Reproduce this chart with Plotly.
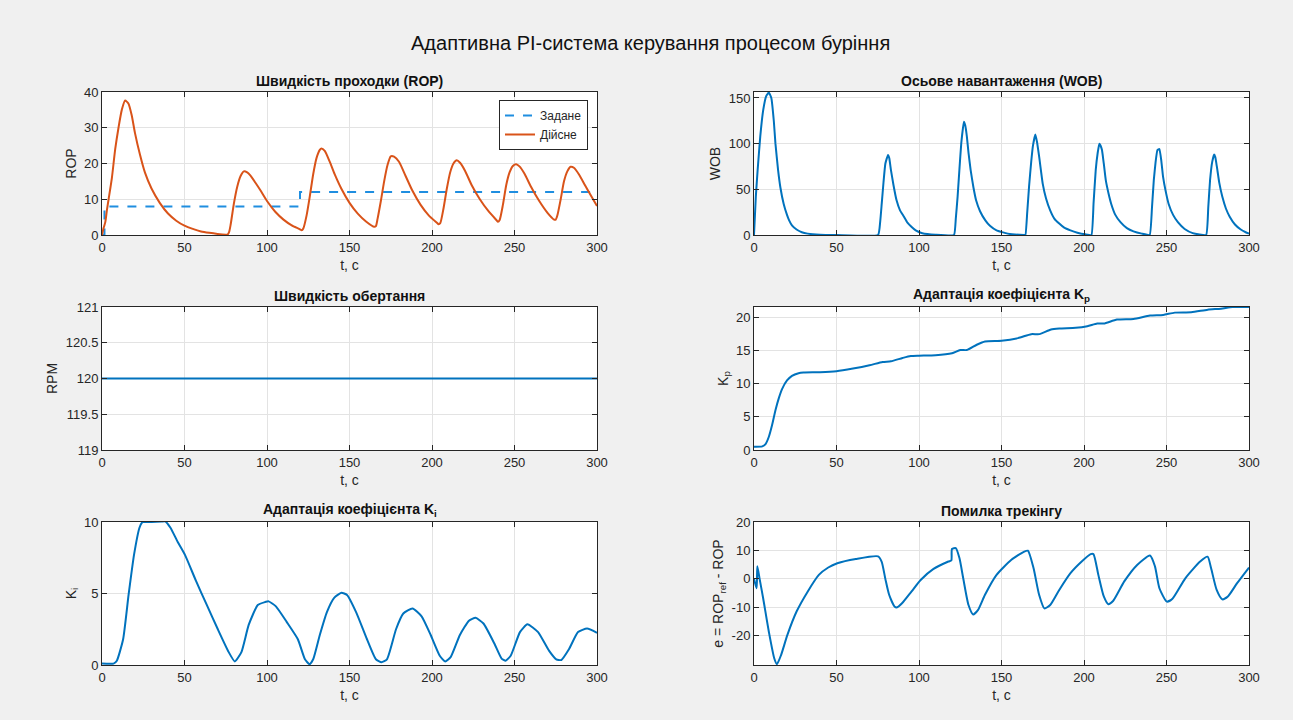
import plotly.graph_objects as go
from plotly.subplots import make_subplots

# ---------------- data ----------------
t_ref = [0, 1.5, 1.5, 120, 120, 300]
rop_ref = [0, 0, 8, 8, 12, 12]

t_rop = [0, 1, 2, 3, 4, 6, 8, 10, 12, 14, 16, 18, 20, 23, 26, 30, 35, 40, 45, 50, 55, 60, 65, 70, 75, 76,
         77, 78, 80, 82, 84, 86, 88, 90, 93, 96, 100, 105, 110, 115, 120, 121, 122, 124, 126, 128, 130,
         132, 133, 135, 138, 141, 145, 150, 155, 160, 165, 166, 167, 169, 171, 173, 175, 177, 180, 184,
         188, 193, 198, 203, 204, 205, 207, 209, 211, 213, 215, 217, 220, 224, 229, 234, 239, 240, 241,
         243, 245, 247, 249, 251, 253, 256, 260, 265, 270, 274, 275, 276, 278, 280, 282, 284, 286, 289,
         293, 297, 300]
rop = [0, 2, 3.6, 7, 10, 16, 24, 30, 35, 37.6, 36.8, 33.5, 28.5, 22.5, 17.5, 13, 9, 6, 4, 2.6, 1.7, 1.0,
       0.6, 0.3, 0.1, 0.1, 0.8, 3, 9, 13.6, 16.5, 17.8, 17.5, 16.6, 14.6, 12.5, 9.5, 6.5, 4.3, 2.7, 1.6,
       1.3, 1.8, 5.5, 11, 17, 21.5, 23.8, 24.2, 23.5, 20.5, 17, 13, 9, 6, 3.8, 2.3, 2.5, 4.5, 9.5, 15,
       19.5, 22, 21.9, 20.5, 16.5, 12.5, 8.5, 5.5, 3.4, 3.0, 3.3, 7.5, 13, 17.5, 20, 20.9, 20.2, 18, 14,
       10, 6.8, 4.2, 3.7, 4.2, 8.5, 14, 17.5, 19.3, 19.8, 19.2, 17.2, 13.5, 9.5, 6.2, 4.3, 4.3, 5.5, 10,
       15, 17.8, 19.1, 18.8, 17, 13.7, 10.5, 8.1]

t_wob = [0, 1.1, 2.2, 3.8, 5.6, 7.4, 9, 10.5, 12, 13, 14.6, 16, 18, 20, 21.3, 23, 25.8, 29, 32.5, 40, 50,
         75.2, 76.5, 77.4, 78.5, 79.6, 81.2, 82, 83, 84.5, 86.4, 88.5, 90.9, 93, 95.4, 98, 102, 110,
         121.2, 122.3, 123.4, 124.5, 125.6, 127.2, 128, 129, 130, 131.3, 133, 134.6, 137, 140.2, 143, 147,
         153.7, 163.8,
         164.5, 165.6, 166.7, 168, 169, 170.5, 171.5, 172.8, 175, 177, 179.5, 182, 185, 188, 191.8, 196,
         200.8, 204.5,
         205.8, 207.1, 208.3, 209.3, 210, 210.9, 212, 213.2, 214.8, 216.5, 219, 222.1, 226, 230, 235,
         239.8,
         241.2, 242.3, 243.4, 244.5, 245.7, 246.8, 247.9, 249.5, 251.3, 254, 256.9, 261, 265.9, 274,
         275.3, 276.4, 277.7, 278.9, 279.6, 280.5, 282, 283.8, 286, 288.3, 291.5, 295, 298, 300]
wob = [0, 42, 71, 108, 137, 152, 156, 150, 125, 100, 71, 52, 34, 22, 16, 10.5, 6, 3, 1.5, 0.3, 0,
       0, 15, 34, 58, 78, 87.6, 84, 71, 55, 38, 27, 20, 13.5, 9, 5, 2, 0.3,
       0, 18, 42, 72, 100, 124, 120, 108, 90, 71, 52, 38, 26, 16, 10, 5,
       1.5, 0,
       0, 25, 53, 80, 97, 110, 102, 86, 56, 40, 27, 18, 12.5, 8, 5, 2.5,
       0.7, 0,
       35, 71, 90, 100, 98, 93, 78, 60, 46, 34, 22, 14, 7.5, 4, 1.5,
       0,
       30, 60, 80, 93, 94, 82, 64, 48, 34, 22, 14, 6.5, 2, 0,
       30, 60, 80, 88, 85, 75, 57, 42, 29, 20, 11.5, 6, 3, 1.5]

t_rpm = [0, 300]
rpm = [120, 120]

t_kp = [0, 5, 7, 9, 11, 13, 15, 17, 20, 23, 27, 30, 40, 50, 60, 70, 78, 83, 90, 95, 100, 110, 120, 125,
        129, 135, 140, 150, 160, 168, 173, 180, 185, 195, 202, 208, 212, 220, 230, 240, 248, 255, 265,
        275, 283, 290, 300]
kp = [0.5, 0.55, 0.9, 2, 3.8, 6, 7.8, 9.2, 10.5, 11.2, 11.6, 11.7, 11.75, 11.9, 12.3, 12.8, 13.3, 13.4,
      13.9, 14.2, 14.25, 14.3, 14.6, 15.1, 15.1, 15.9, 16.4, 16.5, 16.9, 17.5, 17.5, 18.2, 18.35, 18.45,
      18.7, 19.1, 19.1, 19.7, 19.8, 20.3, 20.4, 20.75, 20.8, 21.2, 21.35, 21.6, 21.6]

t_ki = [0, 7, 9, 12.8, 16.1, 19.4, 22.7, 24.2, 24.7, 26, 30, 36, 38.2, 41.5, 45.9, 50.3, 56.9, 63.5, 70.2,
        76.8, 80.5, 84.5, 88.9, 94.4, 98.8, 101, 105.4, 112, 118.7, 123, 125.8, 128, 132, 136.3, 140.7,
        145.1, 148.5, 154, 160.6, 166, 169.4, 172.7, 178.2, 182.6, 188.2, 193.7, 199.2, 204.7, 208, 211.3,
        216.9, 222.4, 226.4, 231.2, 237.8, 242.2, 244.6, 247.7, 253.3, 257.8, 264.3, 270.9, 275.3, 278.4,
        283, 288.5, 294, 300]
ki = [0.1, 0.1, 0.3, 1.8, 4.9, 7.7, 9.6, 9.95, 10, 10, 10, 10.03, 10.05, 9.6, 8.6, 7.7, 5.9, 4.2, 2.5,
      0.9, 0.25, 0.9, 2.8, 4.2, 4.4, 4.45, 4.1, 3.0, 1.8, 0.4, 0.05, 0.4, 2.1, 3.7, 4.7, 5.05, 4.9, 3.7,
      1.8, 0.4, 0.2, 0.4, 2.5, 3.6, 3.95, 3.4, 2.1, 0.65, 0.25, 0.55, 2.1, 3.1, 3.3, 2.9, 1.5, 0.45, 0.3,
      0.65, 2.3, 2.85, 2.3, 1.0, 0.4, 0.35, 1.1, 2.3, 2.55, 2.25]

t_err = [0, 1.6, 2.0, 3.4, 5.6, 9, 12.3, 13.9, 16.4, 20.2, 25.8, 32.5, 39.3, 45, 50.5, 61.7, 75.2, 77.4,
         79.6, 81.9, 85.3, 86.8, 89.7, 95.4, 101, 108.8, 117.8, 119.6, 120, 122.3, 124.5, 126.8, 130,
         132.8, 135.7, 140, 147, 156, 163.8, 166, 169.4, 172.8, 176, 179.5, 185, 191.8, 198.6, 204, 205.7,
         208.7, 212, 214.7, 217.6, 224.4, 232.2, 240, 243, 245.7, 250.2, 253.6, 261.4, 270.4, 274.9, 277,
         280.4, 283.8, 287.2, 292.8, 300]
err = [0, -3.3, 4.4, 0, -7, -18.6, -28, -30, -26.8, -19.8, -11.5, -4.5, 1.4, 4, 5.5, 7, 7.9, 6, 0, -5.6,
       -9.8, -10, -8.6, -4.5, -0.4, 3.5, 6.1, 6.5, 10.5, 10.8, 7.3, 0.2, -9.2, -12.5, -11, -5.6, 1.4, 6.7,
       9.6, 9.9, 3.8, -5.6, -10.4, -9.2, -3.9, 2, 6.1, 8.7, 8.7, 1.4, -6.2, -8.9, -7.8, -0.9, 4.9, 8.2,
       4.4, -3.3, -8, -7, 0.2, 6.1, 7.8, 3.8, -3.9, -7.2, -6.2, -1.5, 4]

x_ticks = [0, 50, 100, 150, 200, 250, 300]

# ---------------- figure ----------------
BLUE = "#0072BD"
ORANGE = "#D95319"
FONT = "Liberation Sans, Arial, sans-serif"

fig = make_subplots(rows=3, cols=2)

fig.add_trace(go.Scatter(x=t_ref, y=rop_ref, mode="lines", name="Задане",
                         line=dict(color="#1f8ee0", width=2, dash="dash")), row=1, col=1)
fig.add_trace(go.Scatter(x=t_rop, y=rop, mode="lines", name="Дійсне", line_shape="spline",
                         line=dict(color=ORANGE, width=2, smoothing=0.6)), row=1, col=1)
fig.add_trace(go.Scatter(x=t_wob, y=wob, mode="lines", showlegend=False, line_shape="spline",
                         line=dict(color=BLUE, width=2, smoothing=0.35)), row=1, col=2)
fig.add_trace(go.Scatter(x=t_rpm, y=rpm, mode="lines", showlegend=False,
                         line=dict(color=BLUE, width=2)), row=2, col=1)
fig.add_trace(go.Scatter(x=t_kp, y=kp, mode="lines", showlegend=False, line_shape="spline",
                         line=dict(color=BLUE, width=2, smoothing=0.6)), row=2, col=2)
fig.add_trace(go.Scatter(x=t_ki, y=ki, mode="lines", showlegend=False, line_shape="spline",
                         line=dict(color=BLUE, width=2, smoothing=0.5)), row=3, col=1)
fig.add_trace(go.Scatter(x=t_err, y=err, mode="lines", showlegend=False, line_shape="spline",
                         line=dict(color=BLUE, width=2, smoothing=0.6)), row=3, col=2)

W, H = 1293, 720
xdom = [(102 / W, 597 / W), (754 / W, 1249 / W)]
ydom = [(1 - 235 / H, 1 - 92 / H), (1 - 450 / H, 1 - 307 / H), (1 - 665 / H, 1 - 522 / H)]

axis_common = dict(showline=True, linecolor="#262626", linewidth=1, mirror="ticks",
                   ticks="inside", ticklen=5, tickcolor="#262626", showgrid=True,
                   gridcolor="#e3e3e3", gridwidth=1, zeroline=False, automargin=False,
                   tickfont=dict(family=FONT, size=13, color="#262626"))

yranges = [[0, 40], [0, 156.5], [119, 121], [0, 21.6], [0, 10], [-30.3, 20]]
yticks = [[0, 10, 20, 30, 40], [0, 50, 100, 150], [119, 119.5, 120, 120.5, 121],
          [0, 5, 10, 15, 20], [0, 5, 10], [-20, -10, 0, 10, 20]]
ylabels = ["ROP", "WOB", "RPM", "K<sub>p</sub>", "K<sub>i</sub>", "e = ROP<sub>ref</sub> - ROP"]
titles = ["Швидкість проходки (ROP)", "Осьове навантаження (WOB)", "Швидкість обертання",
          "Адаптація коефіцієнта K<sub>p</sub>", "Адаптація коефіцієнта K<sub>i</sub>",
          "Помилка трекінгу"]

annotations = []
for i in range(6):
    r, c = divmod(i, 2)
    n = "" if i == 0 else str(i + 1)
    fig.layout["xaxis" + n].update(domain=list(xdom[c]), range=[0, 300], tickvals=x_ticks,
                                   title=dict(text="t, с", standoff=6,
                                              font=dict(family=FONT, size=14, color="#262626")),
                                   **axis_common)
    ytickt = [("%g" % v) for v in yticks[i]]
    fig.layout["yaxis" + n].update(domain=list(ydom[r]), range=yranges[i], tickvals=yticks[i],
                                   ticktext=ytickt,
                                   title=dict(text=ylabels[i], standoff=4,
                                              font=dict(family=FONT, size=14, color="#262626")),
                                   **axis_common)
    annotations.append(dict(text="<b>" + titles[i] + "</b>", xref="paper", yref="paper",
                            x=(xdom[c][0] + xdom[c][1]) / 2, y=ydom[r][1] + 1 / H,
                            xanchor="center", yanchor="bottom", showarrow=False,
                            font=dict(family=FONT, size=14, color="#111111")))

annotations.append(dict(text="Адаптивна PI-система керування процесом буріння", xref="paper",
                        yref="paper", x=650 / W, y=1 - 43 / H, xanchor="center", yanchor="middle",
                        showarrow=False, font=dict(family=FONT, size=20, color="#111111")))

fig.update_layout(
    width=W, height=H, autosize=False,
    margin=dict(l=0, r=0, t=0, b=0, pad=0, autoexpand=False),
    paper_bgcolor="#f0f0f0", plot_bgcolor="white",
    annotations=annotations,
    showlegend=True,
    legend=dict(x=588 / W, y=1 - 100 / H, xanchor="right", yanchor="top",
                bgcolor="white", bordercolor="#262626", borderwidth=1,
                font=dict(family=FONT, size=12, color="#262626"),
                tracegroupgap=0, itemwidth=30),
)

fig.write_html("out.html",
               config={"responsive": False, "displayModeBar": False},
               post_script="document.body.style.margin='0px';document.body.style.overflow='hidden';")
